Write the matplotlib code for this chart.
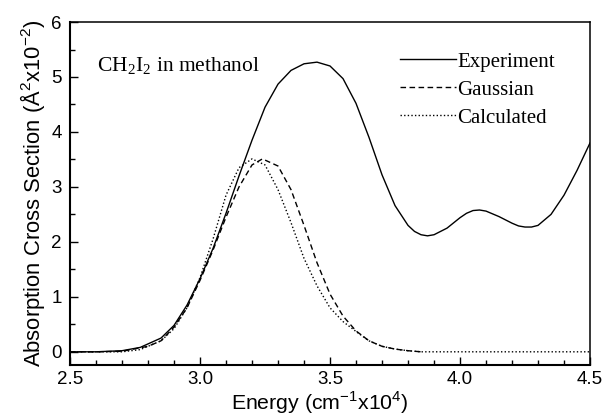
import matplotlib
matplotlib.use("Agg")
import matplotlib.pyplot as plt
from matplotlib.ticker import MultipleLocator

plt.rcParams["mathtext.fontset"] = "custom"
plt.rcParams["mathtext.rm"] = "Liberation Serif"
plt.rcParams["mathtext.sf"] = "Liberation Sans"

# energy in cm^-1 x 10^4, cross section in A^2 x 10^-2
exp_energy = [2.50, 2.60, 2.70, 2.77, 2.85, 2.90, 2.95, 3.00, 3.05, 3.10, 3.15, 3.20,
              3.25, 3.30, 3.35, 3.40, 3.45, 3.50, 3.55, 3.60, 3.65, 3.70, 3.75, 3.80,
              3.825, 3.85, 3.875, 3.90, 3.95, 4.00, 4.025, 4.05, 4.075, 4.10, 4.15,
              4.20, 4.225, 4.25, 4.275, 4.30, 4.35, 4.40, 4.45, 4.50]
exp_sigma = [0.00, 0.00, 0.02, 0.08, 0.25, 0.48, 0.85, 1.33, 1.88, 2.52, 3.20, 3.85,
             4.45, 4.87, 5.12, 5.24, 5.27, 5.20, 4.97, 4.52, 3.90, 3.22, 2.66, 2.30,
             2.19, 2.13, 2.11, 2.13, 2.25, 2.44, 2.52, 2.57, 2.58, 2.56, 2.46,
             2.34, 2.29, 2.27, 2.27, 2.30, 2.50, 2.85, 3.30, 3.80]

gauss_energy = [2.50, 2.60, 2.70, 2.80, 2.85, 2.90, 2.95, 3.00, 3.05, 3.10, 3.15, 3.20,
                3.24, 3.30, 3.35, 3.40, 3.45, 3.50, 3.55, 3.60, 3.65, 3.70, 3.75, 3.80,
                3.85]
gauss_sigma = [0.00, 0.00, 0.01, 0.10, 0.20, 0.45, 0.80, 1.30, 1.85, 2.45, 3.00, 3.40,
               3.51, 3.38, 2.95, 2.30, 1.62, 1.05, 0.65, 0.38, 0.20, 0.10, 0.05, 0.02,
               0.00]

calc_energy = [2.50, 2.60, 2.70, 2.77, 2.85, 2.90, 2.95, 3.00, 3.05, 3.10, 3.15, 3.20,
               3.25, 3.30, 3.35, 3.40, 3.45, 3.50, 3.55, 3.60, 3.65, 3.70, 3.75, 3.80,
               3.85, 4.00, 4.25, 4.50]
calc_sigma = [0.00, 0.00, 0.00, 0.04, 0.20, 0.42, 0.80, 1.35, 2.05, 2.85, 3.35, 3.51,
              3.40, 2.95, 2.35, 1.70, 1.20, 0.80, 0.55, 0.37, 0.20, 0.10, 0.05, 0.02,
              0.00, 0.00, 0.00, 0.00]

fig = plt.figure(figsize=(6.02, 4.17), dpi=100)
ax = fig.add_axes([0.1163, 0.1247, 0.8638, 0.8225])

ax.plot(exp_energy, exp_sigma, color="black", lw=1.0, ls="-", label="Experiment")
ax.plot(gauss_energy, gauss_sigma, color="black", lw=1.0, ls=(0, (4, 2.5)), label="Gaussian")
ax.plot(calc_energy, calc_sigma, color="black", lw=1.0, ls=(0, (1, 1.6)), label="Calculated")

ax.set_xlim(2.5, 4.5)
ax.set_ylim(-0.24, 6)
ax.xaxis.set_major_locator(MultipleLocator(0.5))
ax.xaxis.set_minor_locator(MultipleLocator(0.1))
ax.yaxis.set_major_locator(MultipleLocator(1))
ax.yaxis.set_minor_locator(MultipleLocator(0.5))
ax.xaxis.set_major_formatter(plt.FormatStrFormatter("%.1f"))
ax.tick_params(which="both", direction="in", top=False, right=False, width=1.0,
               labelsize=13.5, pad=6)
ax.tick_params(axis="x", pad=4.5)
ax.tick_params(which="major", length=6)
ax.tick_params(which="minor", length=3.5)
for lab in ax.get_xticklabels() + ax.get_yticklabels():
    lab.set_family("Liberation Sans")
for side in ["left", "bottom"]:
    ax.spines[side].set_linewidth(1.5)
for side in ["top", "right"]:
    ax.spines[side].set_linewidth(1.1)

ax.set_xlabel(r"Energy (cm$^\mathsf{-1}$x10$^\mathsf{4}$)", family="Liberation Sans",
              fontsize=15.3, labelpad=0)
ax.xaxis.set_label_coords(0.48, -0.072)
ax.set_ylabel(r"Absorption Cross Section (Å$^\mathsf{2}$x10$^\mathsf{-2}$)",
              family="Liberation Sans", fontsize=15.8, labelpad=3)

ax.text(0.052, 0.855, r"CH$_\mathrm{2}$I$_\mathrm{2}$ in methanol", transform=ax.transAxes,
        family="Liberation Serif", fontsize=15.5)

leg = ax.legend(loc="upper left", bbox_to_anchor=(0.634, 0.912), frameon=False,
                prop={"family": "Liberation Serif", "size": 15}, handlelength=2.7,
                handletextpad=0.05, borderpad=0, borderaxespad=0, labelspacing=0.4)

fig.savefig("out.png", dpi=100)
